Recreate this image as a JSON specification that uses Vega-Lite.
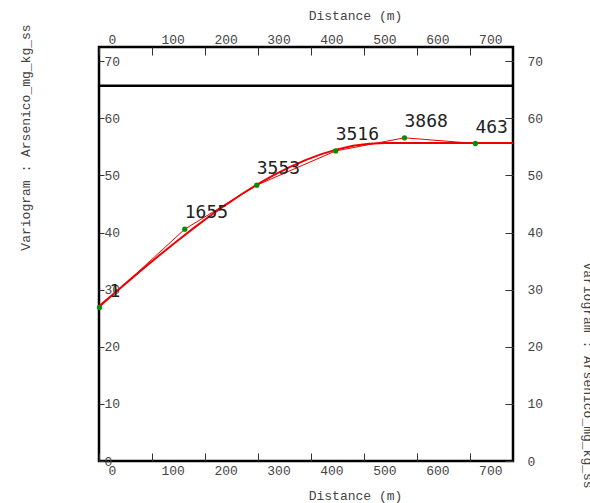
{
  "$schema": "https://vega.github.io/schema/vega-lite/v6.json",
  "width": 414,
  "height": 414,
  "autosize": {"type": "none"},
  "padding": {"left": 99, "top": 47, "right": 77, "bottom": 42},
  "background": "white",
  "config": {
    "view": {"stroke": "black", "strokeWidth": 2.5},
    "axis": {
      "domain": false, "grid": false,
      "labelFont": "Liberation Mono", "labelFontSize": 13, "labelColor": "#444",
      "titleFont": "Liberation Mono", "titleFontSize": 13, "titleFontWeight": "normal", "titleColor": "#444",
      "tickColor": "#333", "labelFlush": false, "labelOverlap": false
    }
  },
  "datasets": {
    "model": [
      {"h": 0, "g": 27.1}, {"h": 30, "g": 29.48}, {"h": 60, "g": 31.85}, {"h": 90, "g": 34.18},
      {"h": 120, "g": 36.48}, {"h": 150, "g": 38.71}, {"h": 180, "g": 40.87}, {"h": 210, "g": 42.94},
      {"h": 240, "g": 44.91}, {"h": 270, "g": 46.76}, {"h": 300, "g": 48.48}, {"h": 330, "g": 50.05},
      {"h": 360, "g": 51.46}, {"h": 390, "g": 52.70}, {"h": 420, "g": 53.74}, {"h": 450, "g": 54.57},
      {"h": 480, "g": 55.19}, {"h": 510, "g": 55.57}, {"h": 540, "g": 55.7}, {"h": 782, "g": 55.7}
    ],
    "exp": [
      {"h": 1, "g": 26.9, "n": "1"},
      {"h": 162, "g": 40.6, "n": "1655"},
      {"h": 298, "g": 48.3, "n": "3553"},
      {"h": 447, "g": 54.3, "n": "3516"},
      {"h": 577, "g": 56.6, "n": "3868"},
      {"h": 711, "g": 55.6, "n": "463"}
    ],
    "sill": [{"s": 65.7}]
  },
  "resolve": {"axis": {"x": "independent", "y": "independent"}},
  "layer": [
    {
      "data": {"name": "model"},
      "mark": {"type": "line", "color": "#ee0000", "strokeWidth": 2},
      "encoding": {
        "x": {"field": "h", "type": "quantitative", "scale": {"domain": [0, 782], "nice": false, "zero": false},
          "axis": {"orient": "bottom", "title": "Distance (m)", "values": [0,100,200,300,400,500,600,700],
            "tickSize": -8, "labelPadding": 17, "labelBaseline": "middle", "labelAlign": "left", "labelOffset": 9,
            "titleX": 256, "titleY": 34, "titleBaseline": "middle", "titleAlign": "center"}},
        "y": {"field": "g", "type": "quantitative", "scale": {"domain": [0, 72.5], "nice": false, "zero": false},
          "axis": {"orient": "left", "title": "Variogram : Arsenico_mg_kg_ss", "values": [0,10,20,30,40,50,60,70],
            "tickSize": -5, "labelPadding": 0, "labelAlign": "left", "labelBaseline": "middle",
            "titleX": -74, "titleY": 90, "titleAngle": 270, "titleAlign": "center", "titleBaseline": "middle"}}
      }
    },
    {
      "data": {"name": "exp"},
      "mark": {"type": "line", "color": "#ee0000", "strokeWidth": 1},
      "encoding": {
        "x": {"field": "h", "type": "quantitative",
          "axis": {"orient": "top", "title": "Distance (m)", "values": [0,100,200,300,400,500,600,700],
            "tickSize": -8, "labelPadding": 16, "labelBaseline": "middle", "labelAlign": "left", "labelOffset": 9,
            "titleX": 256, "titleY": -32, "titleBaseline": "middle", "titleAlign": "center"}},
        "y": {"field": "g", "type": "quantitative",
          "axis": {"orient": "right", "title": "Variogram : Arsenico_mg_kg_ss", "values": [0,10,20,30,40,50,60,70],
            "tickSize": -8, "labelPadding": 22, "labelAlign": "left", "labelBaseline": "middle",
            "titleX": 74, "titleY": 328, "titleAngle": 90, "titleAlign": "center", "titleBaseline": "middle"}}
      }
    },
    {
      "data": {"name": "sill"},
      "mark": {"type": "rule", "color": "black", "strokeWidth": 2.5},
      "encoding": {"y": {"field": "s", "type": "quantitative", "axis": null}}
    },
    {
      "data": {"name": "exp"},
      "mark": {"type": "circle", "color": "#009000", "opacity": 1, "size": 28},
      "encoding": {
        "x": {"field": "h", "type": "quantitative", "axis": null},
        "y": {"field": "g", "type": "quantitative", "axis": null}
      }
    },
    {
      "data": {"name": "exp"},
      "transform": [{"filter": "datum.n != '1'"}],
      "mark": {"type": "text", "font": "DejaVu Sans Mono", "fontSize": 18, "color": "#222", "align": "left", "baseline": "alphabetic", "dx": 0, "dy": -11},
      "encoding": {
        "x": {"field": "h", "type": "quantitative", "axis": null},
        "y": {"field": "g", "type": "quantitative", "axis": null},
        "text": {"field": "n"}
      }
    },
    {
      "data": {"name": "exp"},
      "transform": [{"filter": "datum.n == '1'"}],
      "mark": {"type": "text", "font": "DejaVu Sans Mono", "fontSize": 18, "color": "#222", "align": "left", "baseline": "alphabetic", "dx": 10, "dy": -10},
      "encoding": {
        "x": {"field": "h", "type": "quantitative", "axis": null},
        "y": {"field": "g", "type": "quantitative", "axis": null},
        "text": {"field": "n"}
      }
    }
  ]
}
